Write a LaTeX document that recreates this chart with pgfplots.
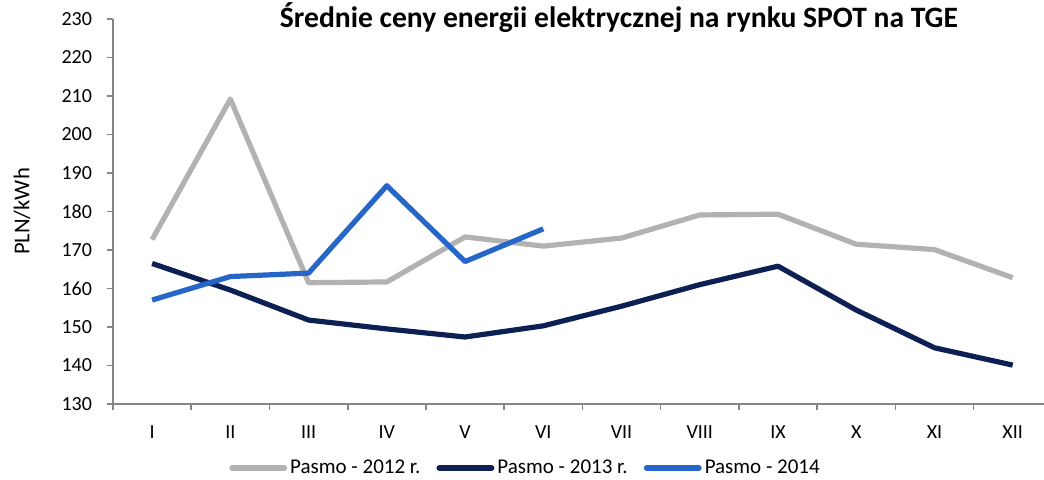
\documentclass[border=0pt]{standalone}
\usepackage{pgfplots}
\pgfplotsset{compat=1.18}
\usepackage{fontspec}
\setmainfont{Carlito}
\definecolor{c12}{RGB}{178,178,178}
\definecolor{c13}{RGB}{13,32,84}
\definecolor{c14}{RGB}{38,102,200}
\definecolor{axg}{RGB}{134,134,134}
\begin{document}
\fontsize{10pt}{12pt}\selectfont
\begin{tikzpicture}
\useasboundingbox (0,0) rectangle (522pt,240pt);
\begin{axis}[
  at={(56.5pt,38pt)}, anchor=south west,
  scale only axis, width=465.5pt, height=192.5pt,
  xmin=-0.5, xmax=11.4, ymin=130, ymax=230,
  axis x line*=bottom, axis y line*=left,
  axis line style={axg, line width=0.8pt},
  every tick/.style={axg, line width=0.8pt},
  xtick={0,...,11},
  xticklabels={I,II,III,IV,V,VI,VII,VIII,IX,X,XI,XII},
  major x tick style={draw=none},
  minor xtick={-0.5,0.5,...,11.5},
  minor tick length=3pt,
  xticklabel style={yshift=-4.5pt},
  ytick={130,140,...,230},
  tick align=outside, major tick length=3pt,
  yticklabel style={xshift=-4pt},
  /pgf/number format/assume math mode=true,
  ticklabel style={font=\fontsize{10pt}{12pt}\selectfont},
  ylabel={PLN/kWh},
  every axis y label/.style={at={(-45.5pt,0.5)}, rotate=90, anchor=center, font=\fontsize{11.3pt}{13pt}\selectfont},
  legend columns=3,
  legend style={at={(0.4436,-0.166)}, anchor=center, draw=none, fill=none,
    font=\fontsize{10.5pt}{12pt}\selectfont,
    nodes={inner sep=1.5pt},
    /tikz/every even column/.append style={column sep=6.5pt}},
  legend image code/.code={\draw[#1, line width=3pt, line cap=round] (0pt,0pt) -- (26pt,0pt);},
  line join=round,
]
\addplot[c12, line width=2.6pt, mark=none] coordinates {
(0,172.7) (1,209.2) (2,161.5) (3,161.7) (4,173.4) (5,171.0) (6,173.1) (7,179.1) (8,179.3) (9,171.5) (10,170.1) (11,162.8)};
\addlegendentry{Pasmo - 2012 r.}
\addplot[c13, line width=2.6pt, mark=none] coordinates {
(0,166.5) (1,159.6) (2,151.8) (3,149.5) (4,147.4) (5,150.3) (6,155.4) (7,161.0) (8,165.8) (9,154.4) (10,144.6) (11,140.1)};
\addlegendentry{Pasmo - 2013 r.}
\addplot[c14, line width=2.6pt, mark=none] coordinates {
(0,157.0) (1,163.1) (2,164.0) (3,186.7) (4,167.0) (5,175.5)};
\addlegendentry{Pasmo - 2014}
\end{axis}
\node[anchor=base, inner sep=0pt, font=\fontsize{14.8pt}{17pt}\selectfont\bfseries] at (309.5pt,226pt) {Średnie ceny energii elektrycznej na rynku SPOT na TGE};
\end{tikzpicture}
\end{document}
